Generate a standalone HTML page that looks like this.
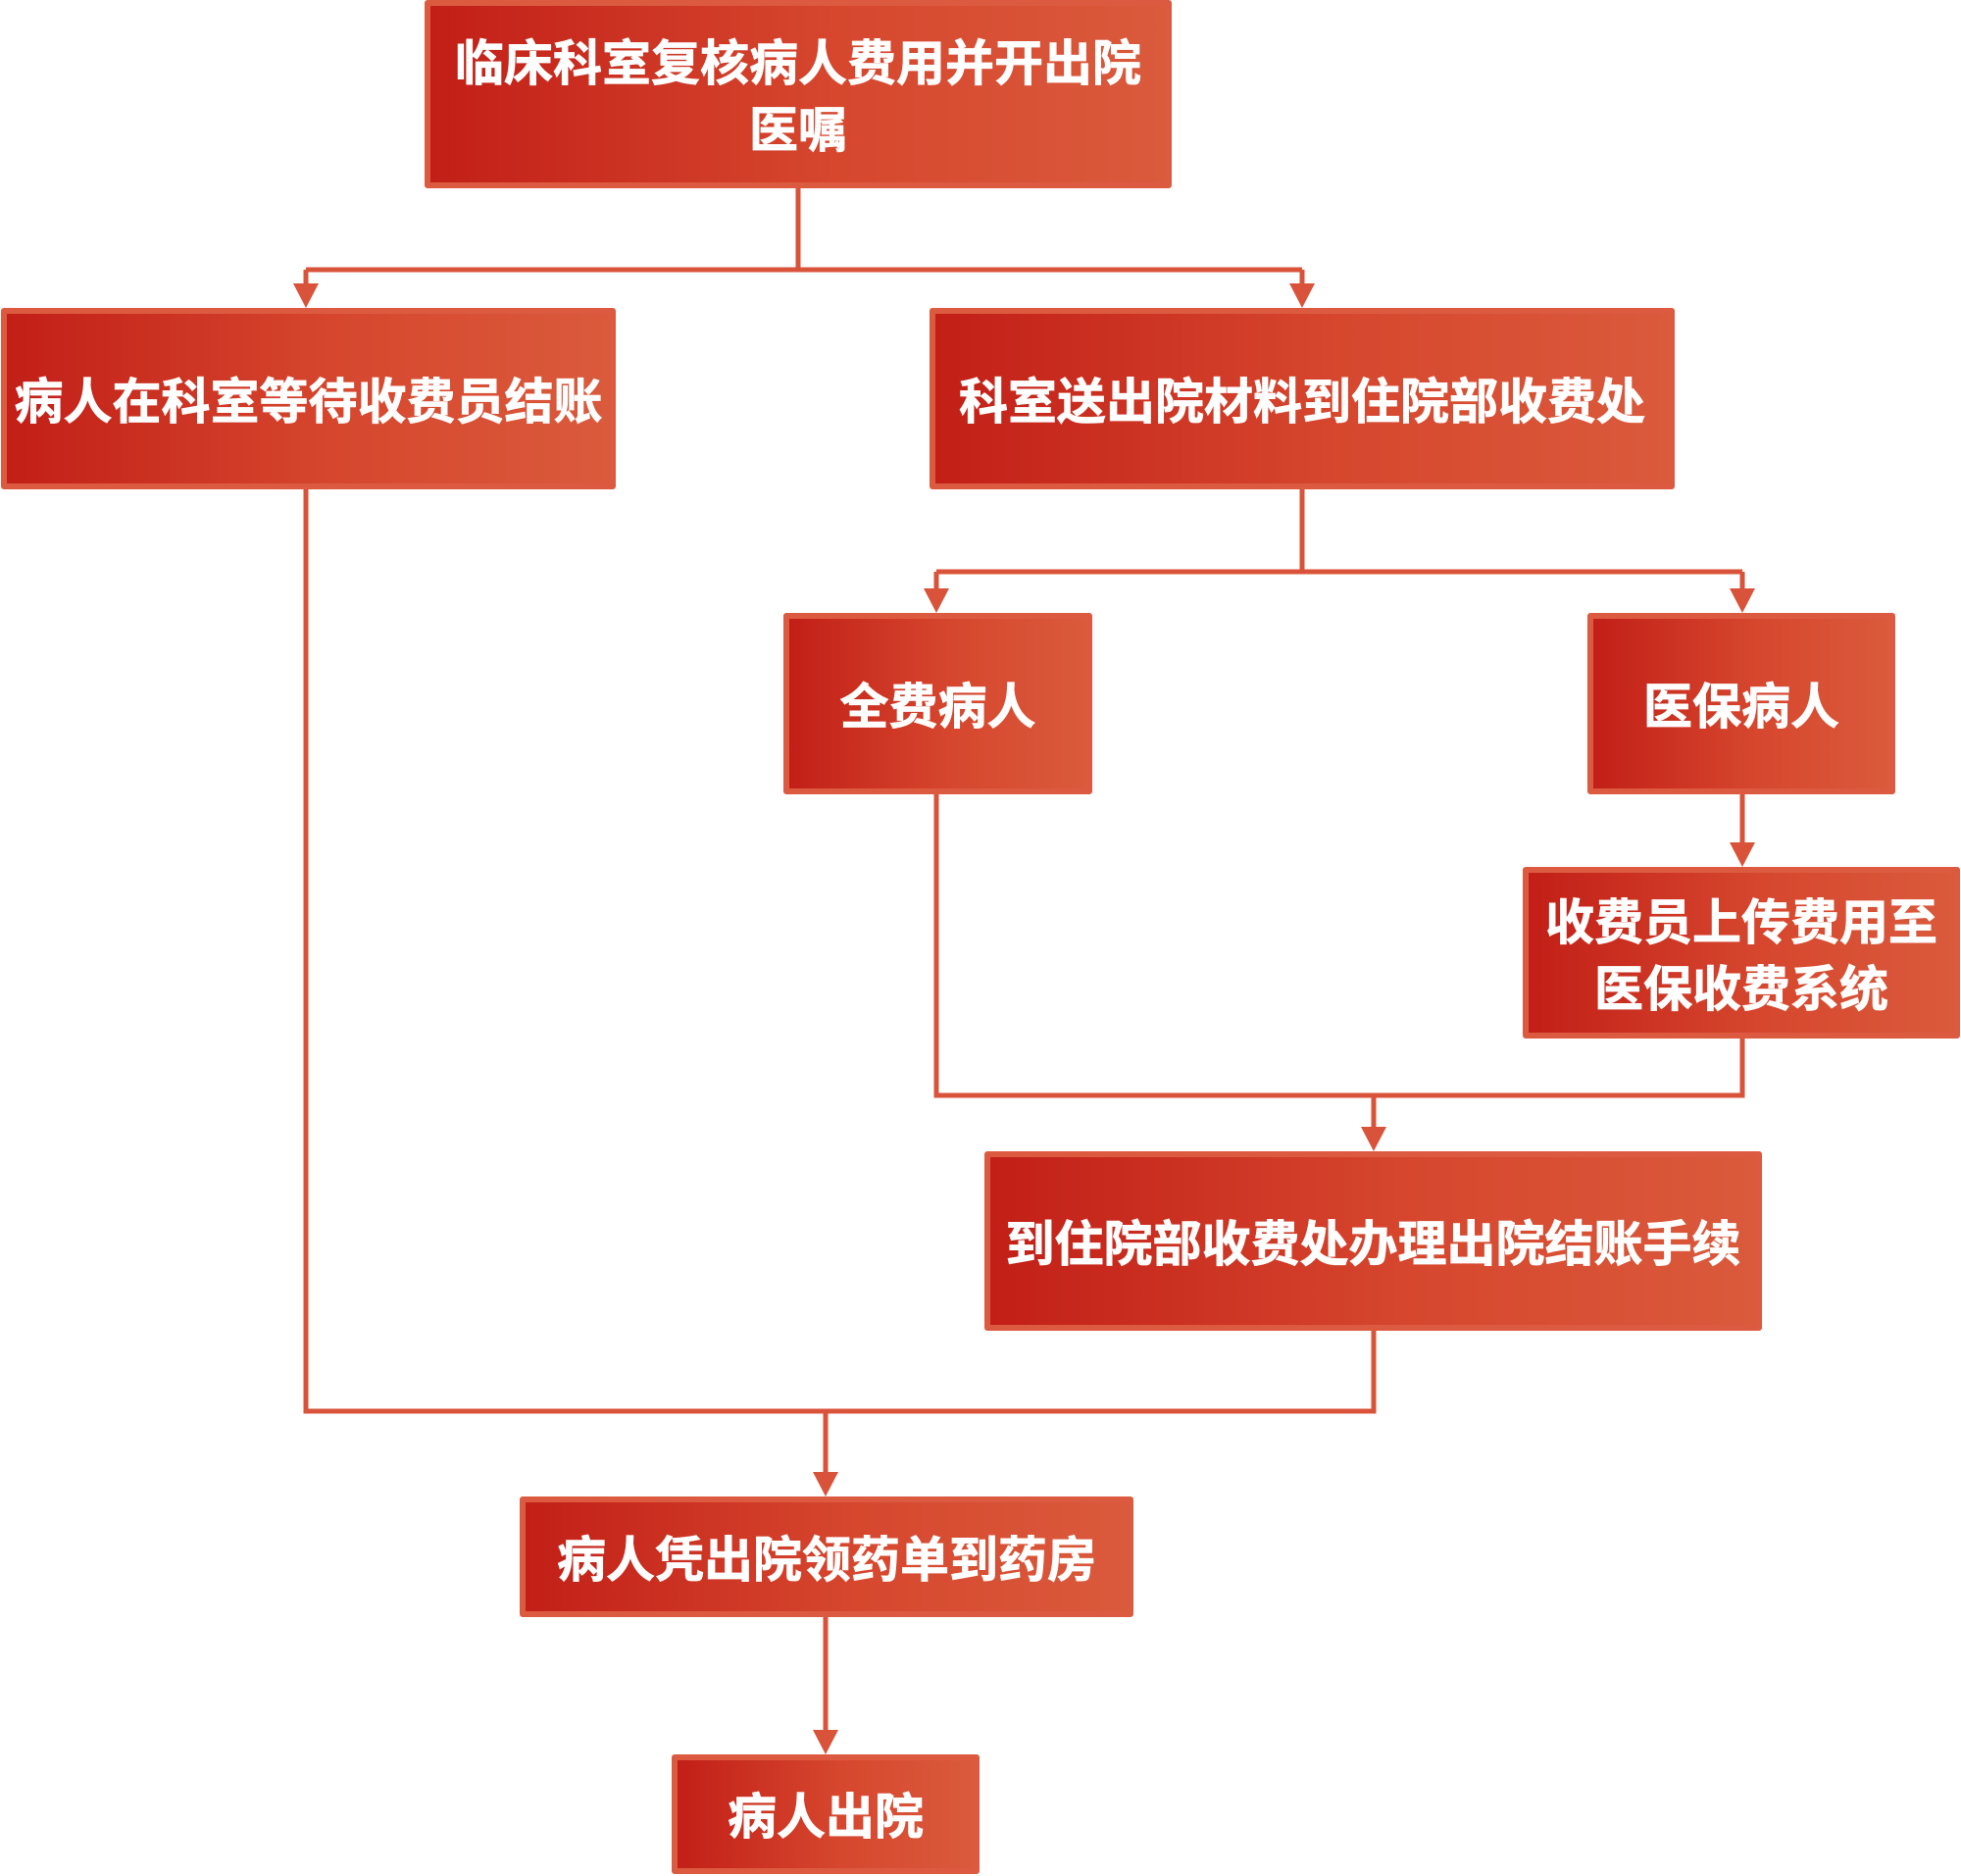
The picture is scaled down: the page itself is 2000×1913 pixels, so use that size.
<!DOCTYPE html>
<html><head><meta charset="utf-8"><style>
html,body{margin:0;padding:0;background:#fff;}
body{width:2000px;height:1913px;position:relative;overflow:hidden;font-family:"Liberation Sans","Noto Sans CJK SC",sans-serif;}
.b{position:absolute;box-sizing:border-box;border:6px solid #dc5b40;border-radius:3px;background:linear-gradient(to right,#c21f17,#d6472e 55%,#da5a3c);color:#fff;font-weight:bold;font-size:50px;-webkit-text-stroke:0.7px #fff;display:flex;align-items:center;justify-content:center;text-align:center;line-height:68px;white-space:nowrap;padding-top:6px;}
svg{position:absolute;left:0;top:0;}
</style></head><body>
<svg width="2000" height="1913" viewBox="0 0 2000 1913">
<g stroke="#d9533a" stroke-width="5" fill="none">
<path d="M814 190 V275 M312 275 H1328 M312 275 V292 M1328 275 V292"/>
<path d="M1328 497 V583 M955 583 H1777 M955 583 V603 M1777 583 V603"/>
<path d="M1777 809 V862"/>
<path d="M955 809 V1117 H1777 V1057 M1401 1117 V1152"/>
<path d="M312 497 V1439 H1401 V1356 M842 1439 V1504"/>
<path d="M842 1648 V1767"/>
</g>
<g fill="#d9533a">
<path d="M299 289 L325 289 L312 314 Z"/>
<path d="M1315 289 L1341 289 L1328 314 Z"/>
<path d="M942 600 L968 600 L955 625 Z"/>
<path d="M1764 600 L1790 600 L1777 625 Z"/>
<path d="M1764 859 L1790 859 L1777 884 Z"/>
<path d="M1388 1149 L1414 1149 L1401 1174 Z"/>
<path d="M829 1501 L855 1501 L842 1526 Z"/>
<path d="M829 1764 L855 1764 L842 1789 Z"/>
</g>
</svg>
<div class="b" style="left:433px;top:0px;width:762px;height:192px;">临床科室复核病人费用并开出院<br>医嘱</div>
<div class="b" style="left:1px;top:314px;width:627px;height:185px;">病人在科室等待收费员结账</div>
<div class="b" style="left:948px;top:314px;width:760px;height:185px;">科室送出院材料到住院部收费处</div>
<div class="b" style="left:799px;top:625px;width:315px;height:185px;">全费病人</div>
<div class="b" style="left:1619px;top:625px;width:314px;height:185px;">医保病人</div>
<div class="b" style="left:1553px;top:884px;width:446px;height:175px;">收费员上传费用至<br>医保收费系统</div>
<div class="b" style="left:1004px;top:1174px;width:793px;height:183px;">到住院部收费处办理出院结账手续</div>
<div class="b" style="left:530px;top:1526px;width:626px;height:123px;">病人凭出院领药单到药房</div>
<div class="b" style="left:685px;top:1789px;width:314px;height:122px;">病人出院</div>
</body></html>
